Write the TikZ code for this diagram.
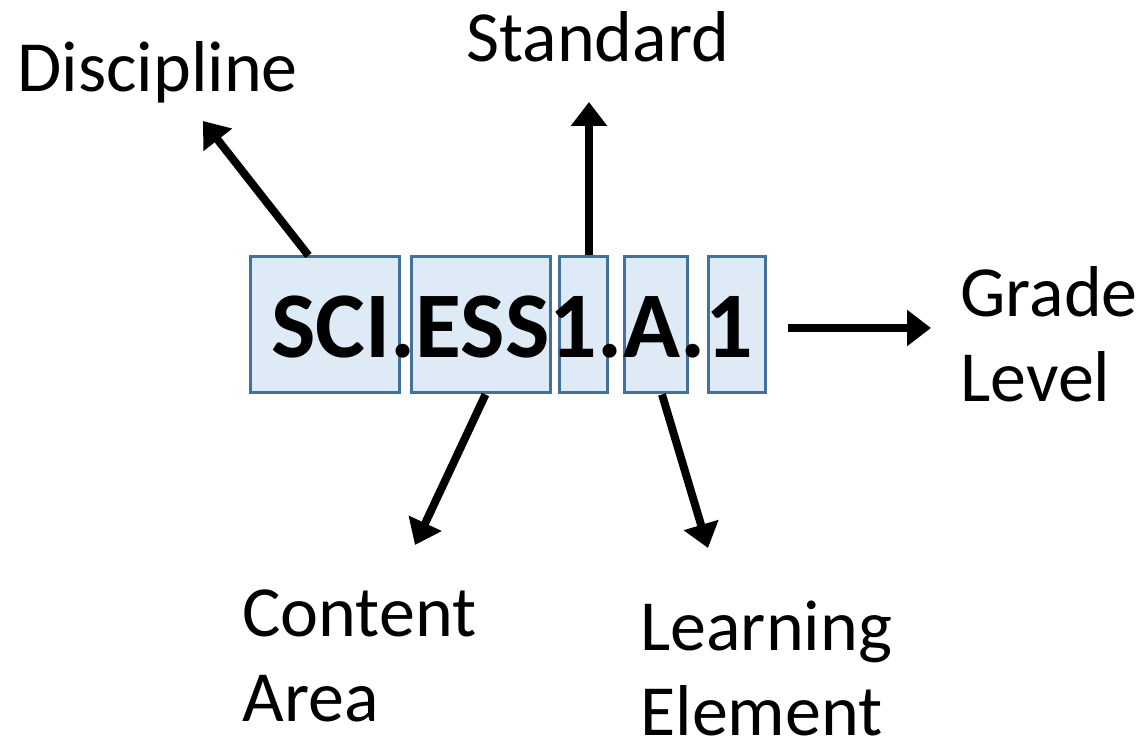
\documentclass[tikz,border=0pt]{standalone}
\usepackage{fontspec}
\setmainfont{Carlito}
\usetikzlibrary{arrows.meta, positioning}
\definecolor{boxFill}{RGB}{222,235,247}
\definecolor{boxLine}{RGB}{65,113,156}
\tikzset{
    codeBox/.style={rectangle, draw=boxLine, fill=boxFill, line width=1.5pt, inner sep=0pt, minimum height=68pt},
    partArrow/.style={-{Triangle[width=17.5pt, length=12pt]}, line width=4pt},
    partLabel/.style={inner sep=0pt, align=left, font=\fontsize{36}{42.5}\selectfont},
}
\newcommand{\drawPart}[2]{
    \draw[partArrow] (#1) -- (#2);
}

\begin{document}
\begin{tikzpicture}[x=0.5pt, y=-0.5pt]

        \useasboundingbox (0,0) rectangle (1148,742);

        \node[codeBox, minimum width=74.5pt] (sci) at (324.5,325) {};
        \node[codeBox, minimum width=69.5pt] (ess) at (480.5,325) {};
        \node[codeBox, minimum width=24pt] (std) at (583,325) {};
        \node[codeBox, minimum width=31.5pt] (elem) at (655.5,325) {};
        \node[codeBox, minimum width=28.5pt] (grade) at (736.5,325) {};

        \node[inner sep=0pt, anchor=base west, font=\fontsize{47}{56}\selectfont\bfseries] (code) at (271,358) {SCI.ESS1.A.1};

        % base of a two-line label is its last line
        \node[partLabel, anchor=base west] (disc) at (17,92) {Discipline};
        \node[partLabel, anchor=base west] (stdLabel) at (466,62) {Standard};
        \node[partLabel, anchor=base west] (gradeLabel) at (960,402) {Grade\\Level};
        \node[partLabel, anchor=base west] (content) at (242,722) {Content\\Area};
        \node[partLabel, anchor=base west] (learn) at (640,736) {Learning\\Element};

        \coordinate (discTip) at (203,121);
        \coordinate (stdTip) at (589,102);
        \coordinate (contentTip) at (415,545);
        \coordinate (learnTip) at (708,548);
        \coordinate (gradeTip) at (931,328);

        \drawPart{[xshift=-8pt]sci.north}{discTip}
        \drawPart{[xshift=3pt]std.north}{stdTip}
        \drawPart{[xshift=2.5pt]ess.south}{contentTip}
        \drawPart{[xshift=3.25pt]elem.south}{learnTip}
        \drawPart{[xshift=10.5pt, yshift=-1.5pt]grade.east}{gradeTip}

    \end{tikzpicture}
\end{document}
